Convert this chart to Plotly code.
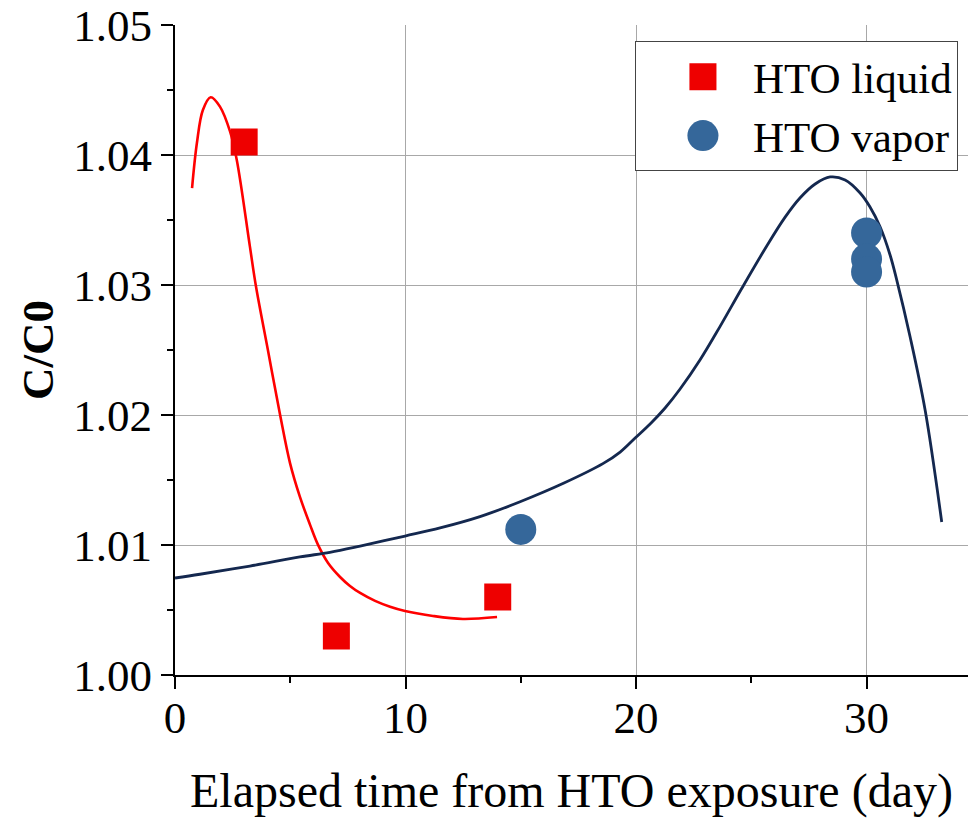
import plotly.graph_objects as go

# ---- data ----
liquid_day = [3, 7, 14]
liquid_ratio = [1.041, 1.003, 1.006]

vapor_day = [15, 30, 30, 30]
vapor_ratio = [1.0112, 1.034, 1.032, 1.031]

liquid_fit_day = [0.74, 0.95, 1.21, 1.55, 1.95, 2.39, 2.68, 3.25, 3.51, 4.03, 4.56, 4.99,
                  5.42, 5.86, 6.20, 6.64, 7.16, 7.59, 8.03, 8.68, 9.33, 9.98, 11.19, 12.49, 13.97]
liquid_fit_ratio = [1.03746, 1.04092, 1.04346, 1.04444, 1.04372, 1.04179, 1.03962, 1.03295,
                    1.02992, 1.02500, 1.02000, 1.01630, 1.01370, 1.01155, 1.01003, 1.00862,
                    1.00754, 1.00685, 1.00631, 1.00570, 1.00525, 1.00492, 1.00454, 1.00431,
                    1.00446]

vapor_fit_day = [0, 1.08, 3.25, 5.42, 6.72, 8.03, 9.98, 11.50, 13.23, 14.97, 16.85, 18.58,
                 19.31, 19.96, 20.61, 21.26, 21.91, 22.78, 23.64, 24.59, 25.67, 26.46, 27.11,
                 27.77, 28.42, 29.07, 29.72, 30.15, 30.59, 31.02, 31.31, 31.89, 32.54, 33.26]
vapor_fit_ratio = [1.00746, 1.00775, 1.00838, 1.00908, 1.00944, 1.00992, 1.01069, 1.01131,
                   1.01218, 1.01333, 1.01475, 1.01628, 1.01715, 1.01823, 1.01931, 1.02054,
                   1.02200, 1.02425, 1.02680, 1.02975, 1.03300, 1.03520, 1.03669, 1.03777,
                   1.03831, 1.03808, 1.03708, 1.03600, 1.03446, 1.03231, 1.03038, 1.02600,
                   1.02038, 1.01177]

x_ticks = [0, 10, 20, 30]
y_ticks = [1.00, 1.01, 1.02, 1.03, 1.04, 1.05]

FONT = "Liberation Serif, Times New Roman, serif"
XR = [0, 34.4]
YR = [1.0, 1.05]
GRID = "#a8a8a8"

fig = go.Figure()
fig.add_trace(go.Scatter(x=liquid_fit_day, y=liquid_fit_ratio, mode="lines",
                         line=dict(color="#FF0000", width=2.6, shape="spline", smoothing=1.0),
                         showlegend=False, hoverinfo="skip"))
fig.add_trace(go.Scatter(x=vapor_fit_day, y=vapor_fit_ratio, mode="lines",
                         line=dict(color="#14284F", width=2.8, shape="spline", smoothing=1.0),
                         showlegend=False, hoverinfo="skip"))
fig.add_trace(go.Scatter(x=liquid_day, y=liquid_ratio, mode="markers", name="HTO liquid",
                         marker=dict(symbol="square", size=27, color="#EE0000")))
fig.add_trace(go.Scatter(x=vapor_day, y=vapor_ratio, mode="markers", name="HTO vapor",
                         marker=dict(symbol="circle", size=31, color="#35679A")))

fig.update_layout(
    width=972, height=818,
    margin=dict(l=175, r=4, t=25, b=143),
    paper_bgcolor="white", plot_bgcolor="white",
    font=dict(family=FONT, size=45, color="black"),
    xaxis=dict(range=XR, tickvals=x_ticks, ticks="outside", ticklen=12, tickwidth=2,
               tickcolor="black", showline=True, linewidth=2, linecolor="black",
               showgrid=True, gridcolor=GRID, gridwidth=1, zeroline=False,
               automargin=False, ticklabelstandoff=-10,
               minor=dict(dtick=5, ticks="outside", ticklen=6, tickwidth=2,
                          tickcolor="black", showgrid=False),
               title=dict(text="Elapsed time from HTO exposure (day)",
                          font=dict(size=48), standoff=44),
               tickfont=dict(size=45)),
    yaxis=dict(range=YR, tickvals=y_ticks, tickformat=".2f", ticks="outside", ticklen=12,
               tickwidth=2, tickcolor="black", showline=True, linewidth=2, linecolor="black",
               showgrid=True, gridcolor=GRID, gridwidth=1, zeroline=False,
               automargin=False,
               minor=dict(dtick=0.005, ticks="outside", ticklen=6, tickwidth=2,
                          tickcolor="black", showgrid=False),
               title=dict(text="<b>C/C0</b>", font=dict(size=45), standoff=6),
               tickfont=dict(size=45)),
    xaxis2=dict(range=XR, overlaying="x", side="top", tickvals=x_ticks, ticks="inside",
                ticklen=12, tickwidth=2, tickcolor="black", showline=True, linewidth=2,
                linecolor="black", showgrid=False, zeroline=False, showticklabels=False,
                automargin=False,
                minor=dict(dtick=5, ticks="inside", ticklen=6, tickwidth=2,
                           tickcolor="black", showgrid=False)),
    yaxis2=dict(range=YR, overlaying="y", side="right", tickvals=y_ticks, ticks="outside",
                ticklen=12, tickwidth=2, tickcolor="black", showline=False, showgrid=False,
                zeroline=False, showticklabels=False, automargin=False,
                minor=dict(dtick=0.005, ticks="outside", ticklen=6, tickwidth=2,
                           tickcolor="black", showgrid=False)),
    legend=dict(x=0.58, y=0.975, xanchor="left", yanchor="top",
                bgcolor="white", bordercolor="#444444", borderwidth=1,
                font=dict(size=43), itemwidth=90, indentation=17, tracegroupgap=0),
    showlegend=True,
)

post = """
document.documentElement.style.margin = '0';
document.body.style.margin = '0';
document.body.style.padding = '0';
document.body.style.overflow = 'hidden';
var gd = document.getElementsByClassName('plotly-graph-div')[0];
function enlarge(){
  var pts = gd.querySelectorAll('.legend .legendpoints path.scatterpts');
  pts.forEach(function(p, i){
    var s = (i === 0) ? 1.69 : 1.94;
    var t = p.getAttribute('transform') || '';
    if (t.indexOf('scale') < 0) p.setAttribute('transform', t + ' scale(' + s + ')');
  });
}
enlarge();
gd.on('plotly_afterplot', enlarge);
"""

fig.write_html("out.html", post_script=post, config={"displayModeBar": False})
